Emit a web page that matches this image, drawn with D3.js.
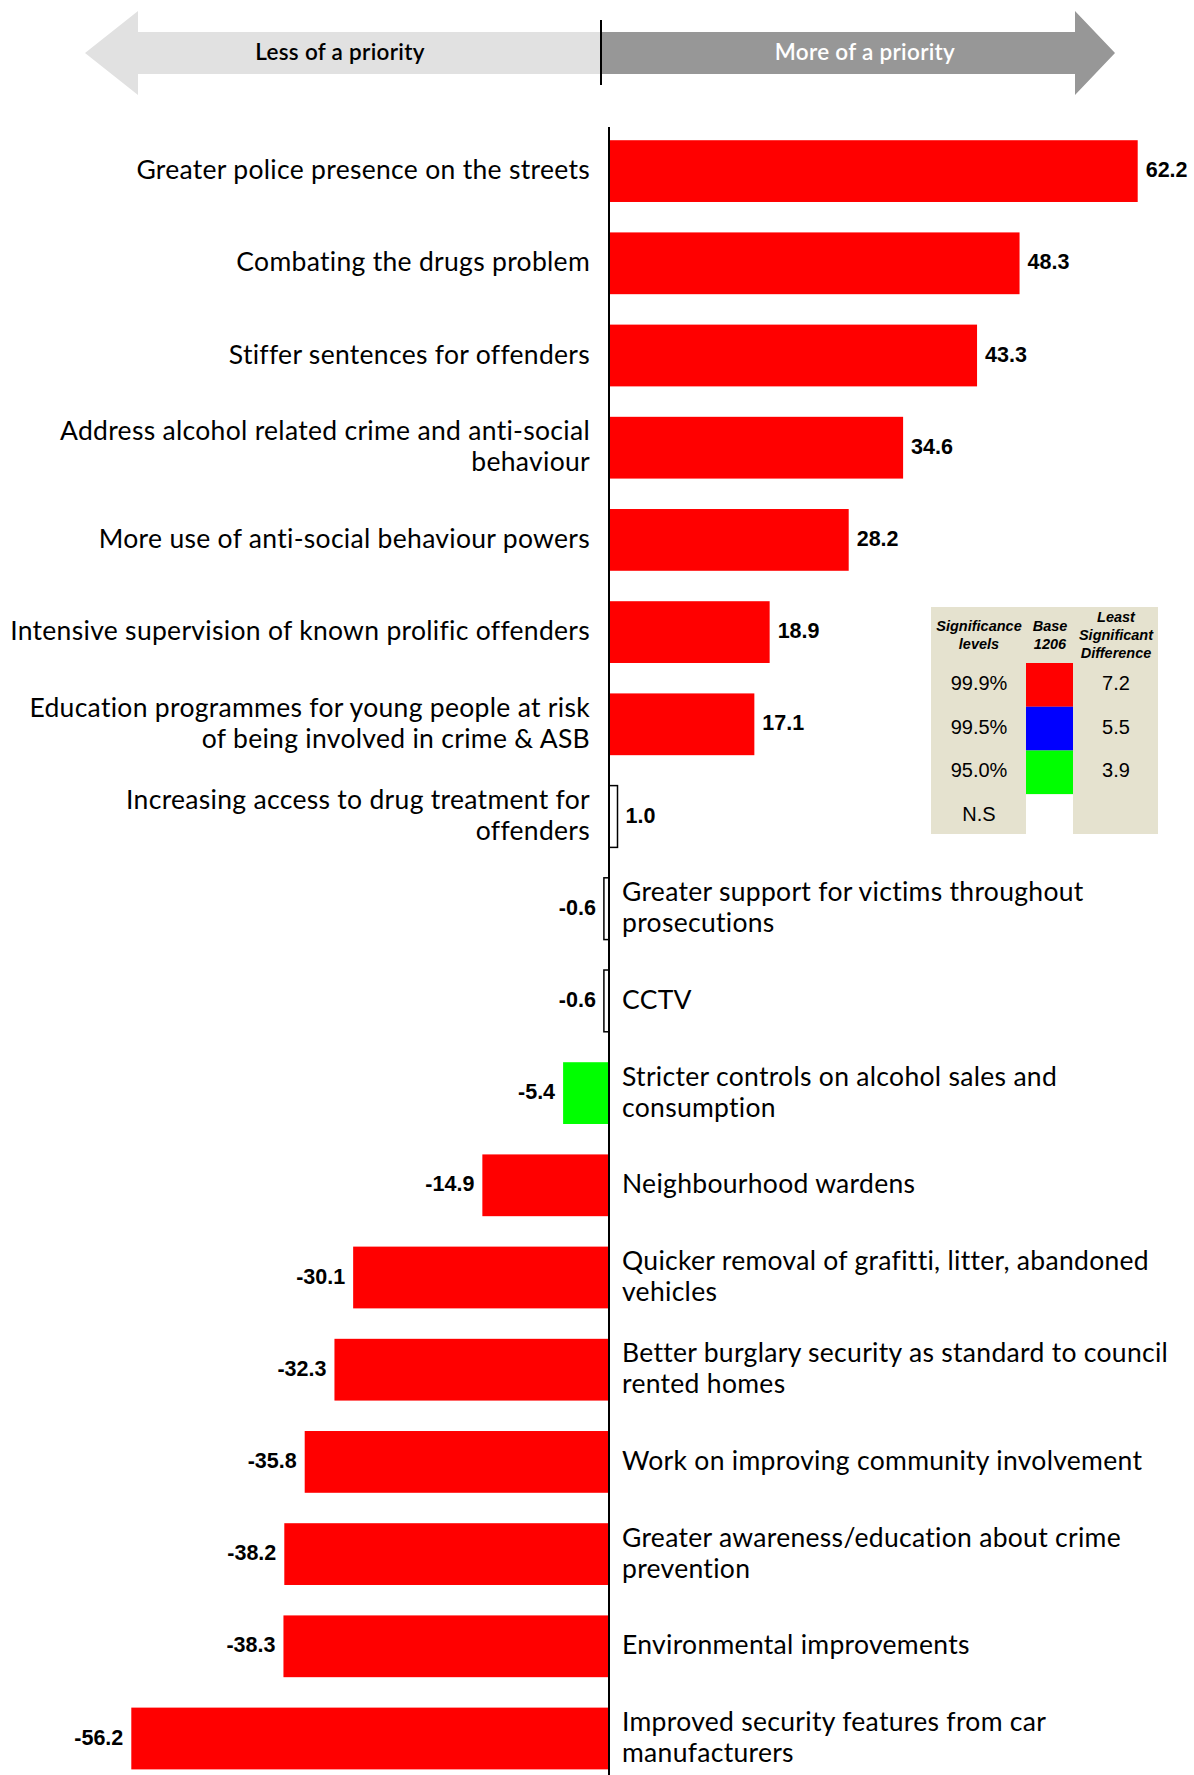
<!DOCTYPE html>
<html>
<head>
<meta charset="utf-8">
<script src="https://cdn.jsdelivr.net/npm/d3@7"></script>
<style>
  body { margin: 0; background: #fff; }
  svg text { font-family: Lato, "Open Sans", sans-serif; }
</style>
</head>
<body>
<div id="chart"></div>
<script>
// categories (top to bottom), values, significance class
var categories = [
  "Greater police presence on the streets",
  "Combating the drugs problem",
  "Stiffer sentences for offenders",
  "Address alcohol related crime and anti-social|behaviour",
  "More use of anti-social behaviour powers",
  "Intensive supervision of known prolific offenders",
  "Education programmes for young people at risk|of being involved in crime & ASB",
  "Increasing access to drug treatment for|offenders",
  "Greater support for victims throughout|prosecutions",
  "CCTV",
  "Stricter controls on alcohol sales and|consumption",
  "Neighbourhood wardens",
  "Quicker removal of grafitti, litter, abandoned|vehicles",
  "Better burglary security as standard to council|rented homes",
  "Work on improving community involvement",
  "Greater awareness/education about crime|prevention",
  "Environmental improvements",
  "Improved security features from car|manufacturers"
];
var values = [62.2, 48.3, 43.3, 34.6, 28.2, 18.9, 17.1, 1.0, -0.6, -0.6, -5.4, -14.9, -30.1, -32.3, -35.8, -38.2, -38.3, -56.2];
var significance = ["99.9", "99.9", "99.9", "99.9", "99.9", "99.9", "99.9", "NS", "NS", "NS", "95.0", "99.9", "99.9", "99.9", "99.9", "99.9", "99.9", "99.9"];

// legend
var legendLevels = ["99.9%", "99.5%", "95.0%", "N.S"];
var legendKeys = ["99.9", "99.5", "95.0", "NS"];
var legendLSD = ["7.2", "5.5", "3.9", ""];

var colour = {"99.9": "#ff0000", "99.5": "#0000ff", "95.0": "#00ff00", "NS": "#ffffff"};

var W = 1194, H = 1775;
var svg = d3.select("#chart").append("svg")
  .attr("width", W).attr("height", H);

// top arrows
svg.append("polygon")
  .attr("points", "85,53 138,11 138,32 601,32 601,74 138,74 138,95")
  .attr("fill", "#e1e1e1");
svg.append("polygon")
  .attr("points", "601,32 1075,32 1075,11 1115,53 1075,95 1075,74 601,74")
  .attr("fill", "#979797");
svg.append("line")
  .attr("x1", 601).attr("x2", 601).attr("y1", 20).attr("y2", 85)
  .attr("stroke", "#000").attr("stroke-width", 2);
svg.append("text").attr("x", 340).attr("y", 60)
  .attr("text-anchor", "middle").attr("font-size", 22.5).attr("font-weight", 600)
  .attr("letter-spacing", 0.3)
  .attr("fill", "#000").text("Less of a priority");
svg.append("text").attr("x", 865).attr("y", 60)
  .attr("text-anchor", "middle").attr("font-size", 22.5).attr("font-weight", 600)
  .attr("letter-spacing", 0.3)
  .attr("fill", "#fff").text("More of a priority");

// scales
var x = d3.scaleLinear().domain([-60, 70]).range([99, 1204]);
var x0 = x(0);
var y = d3.scaleBand().domain(categories)
  .range([125, 125 + 18 * 92.2])
  .paddingInner(0.33).paddingOuter(0.165);

var bars = svg.append("g");
bars.selectAll("rect")
  .data(categories)
  .enter().append("rect")
  .attr("x", function(d, i) { return Math.min(x(values[i]), x0); })
  .attr("y", function(d) { return y(d); })
  .attr("width", function(d, i) { return Math.abs(x(values[i]) - x0); })
  .attr("height", y.bandwidth())
  .attr("fill", function(d, i) { return colour[significance[i]]; })
  .attr("stroke", function(d, i) { return significance[i] == "NS" ? "#000" : "none"; })
  .attr("stroke-width", 1.5);

// value labels
bars.selectAll("text.val")
  .data(categories)
  .enter().append("text")
  .attr("class", "val")
  .attr("x", function(d, i) { return values[i] >= 0 ? x(values[i]) + 8 : x(values[i]) - 8; })
  .attr("y", function(d) { return y(d) + y.bandwidth() / 2 + 6; })
  .attr("text-anchor", function(d, i) { return values[i] >= 0 ? "start" : "end"; })
  .style("font-family", "'Liberation Sans', Arial, sans-serif")
  .attr("font-size", 21.5).attr("font-weight", "bold")
  .text(function(d, i) { return values[i].toFixed(1); });

// category labels
categories.forEach(function(c, i) {
  var lines = c.split("|");
  var pos = values[i] >= 0;
  var cy = y(c) + y.bandwidth() / 2;
  var t = svg.append("text")
    .attr("text-anchor", pos ? "end" : "start")
    .attr("font-size", 26.5)
    .attr("letter-spacing", 0.3)
    .attr("fill", "#000");
  lines.forEach(function(l, j) {
    t.append("tspan")
      .attr("x", pos ? x0 - 19 : x0 + 13)
      .attr("y", cy + 8 + (j - (lines.length - 1) / 2) * 31)
      .text(l);
  });
});

// axis line
svg.append("line")
  .attr("x1", x0).attr("x2", x0).attr("y1", 127).attr("y2", H)
  .attr("stroke", "#000").attr("stroke-width", 2);

// legend box
var lg = svg.append("g");
lg.append("rect").attr("x", 931).attr("y", 607).attr("width", 227).attr("height", 227)
  .attr("fill", "#e5e2cf");
var hdr = function(txt, cx, yy) {
  lg.append("text").attr("x", cx).attr("y", yy).attr("text-anchor", "middle")
    .style("font-family", "'Liberation Sans', Arial, sans-serif")
    .attr("font-size", 14.5).attr("font-style", "italic").attr("font-weight", "bold")
    .text(txt);
};
hdr("Significance", 979, 631); hdr("levels", 979, 649);
hdr("Base", 1050, 631); hdr("1206", 1050, 649);
hdr("Least", 1116, 622); hdr("Significant", 1116, 640); hdr("Difference", 1116, 658);

var ly = d3.scaleBand().domain(legendKeys).range([663, 838]);
lg.selectAll("rect.sw").data(legendKeys).enter().append("rect")
  .attr("class", "sw")
  .attr("x", 1026).attr("width", 47)
  .attr("y", function(d) { return ly(d); })
  .attr("height", function(d) { return d == "NS" ? 834 - ly(d) : ly.bandwidth(); })
  .attr("fill", function(d) { return colour[d]; });
lg.selectAll("text.lv").data(legendKeys).enter().append("text")
  .attr("x", 979).attr("y", function(d) { return ly(d) + ly.bandwidth() / 2 + 5; })
  .attr("text-anchor", "middle")
  .style("font-family", "'Liberation Sans', Arial, sans-serif")
  .attr("font-size", 20)
  .text(function(d, i) { return legendLevels[i]; });
lg.selectAll("text.lsd").data(legendKeys).enter().append("text")
  .attr("x", 1116).attr("y", function(d) { return ly(d) + ly.bandwidth() / 2 + 5; })
  .attr("text-anchor", "middle")
  .style("font-family", "'Liberation Sans', Arial, sans-serif")
  .attr("font-size", 20)
  .text(function(d, i) { return legendLSD[i]; });
</script>
</body>
</html>
